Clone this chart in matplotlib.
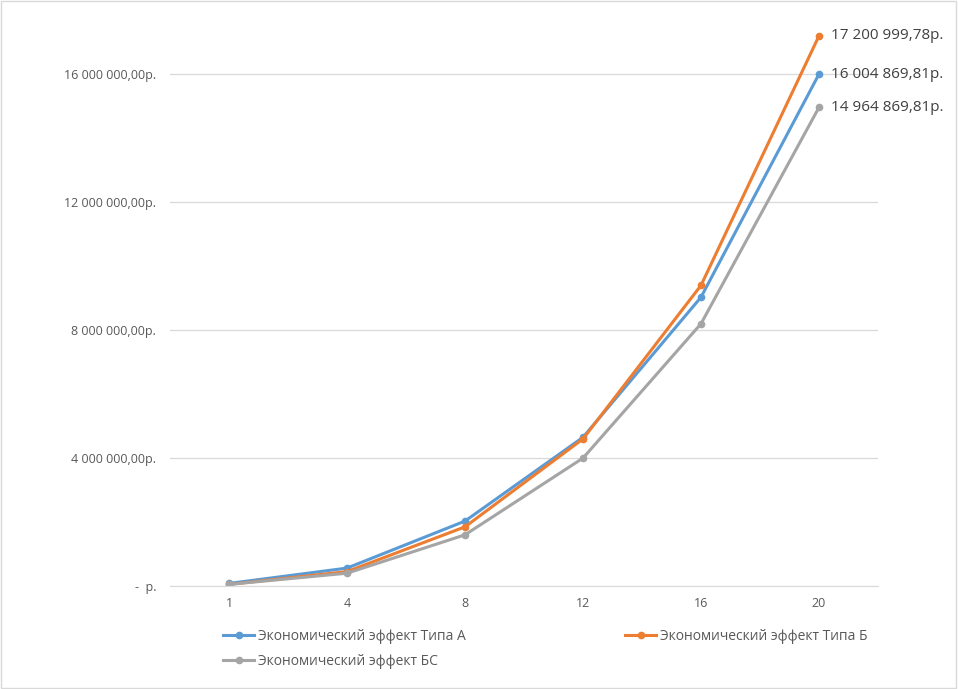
import matplotlib
matplotlib.use("Agg")
import matplotlib.pyplot as plt
from matplotlib.ticker import FuncFormatter
from matplotlib.patches import Rectangle

plt.rcParams['font.family'] = ['Open Sans', 'DejaVu Sans']

categories = ["1", "4", "8", "12", "16", "20"]
type_a = [80000, 560000, 2030000, 4650000, 9030000, 16004869.81]
type_b = [50000, 450000, 1850000, 4600000, 9400000, 17200999.78]
type_bs = [50000, 400000, 1600000, 4000000, 8200000, 14964869.81]
names = ["Экономический эффект Типа А", "Экономический эффект Типа Б", "Экономический эффект БС"]
colors = ["#5B9BD5", "#ED7D31", "#A5A5A5"]

def money(v):
    return f"{v:,.2f}".replace(",", " ").replace(".", ",") + "р."

fig = plt.figure(figsize=(9.58, 6.89), dpi=100)
fig.patches.append(Rectangle((0.001, 0.001), 0.997, 0.997, transform=fig.transFigure,
                             fill=False, edgecolor='#D9D9D9', lw=1))
ax = fig.add_axes([0.1775, 0.1495, 0.739, 0.817])
x = range(len(categories))
lines = []
for vals, nm, c in zip([type_a, type_b, type_bs], names, colors):
    l, = ax.plot(x, vals, color=c, lw=2.2, marker='o', ms=4.5, label=nm)
    lines.append(l)
    ax.text(5 + 0.1, vals[-1], money(vals[-1]), va='center', ha='left',
            fontsize=11, color='#404040')

ax.set_xlim(-0.5, 5.5)
ax.set_ylim(0, 17600000)
ax.set_xticks(list(x))
ax.set_xticklabels(categories)
ax.set_yticks([0, 4e6, 8e6, 12e6, 16e6])
ax.yaxis.set_major_formatter(FuncFormatter(lambda v, p: "-  р." if v == 0 else money(v)))
ax.grid(axis='y', color='#D9D9D9', lw=0.9)
ax.set_axisbelow(True)
for s in ['top', 'right', 'left']:
    ax.spines[s].set_visible(False)
ax.spines['bottom'].set_color('#D9D9D9')
ax.tick_params(length=0, labelsize=9, colors='#595959', pad=10)
ax.tick_params(axis='x', pad=8)

fig.legend(handles=[lines[0], lines[2], lines[1]], loc='upper left',
           bbox_to_anchor=(0.22, 0.105), ncol=2, frameon=False, fontsize=10,
           labelcolor='#595959', columnspacing=11.5, handlelength=2.2,
           handletextpad=0.3, labelspacing=0.7)
fig.savefig("out.png", dpi=100)
